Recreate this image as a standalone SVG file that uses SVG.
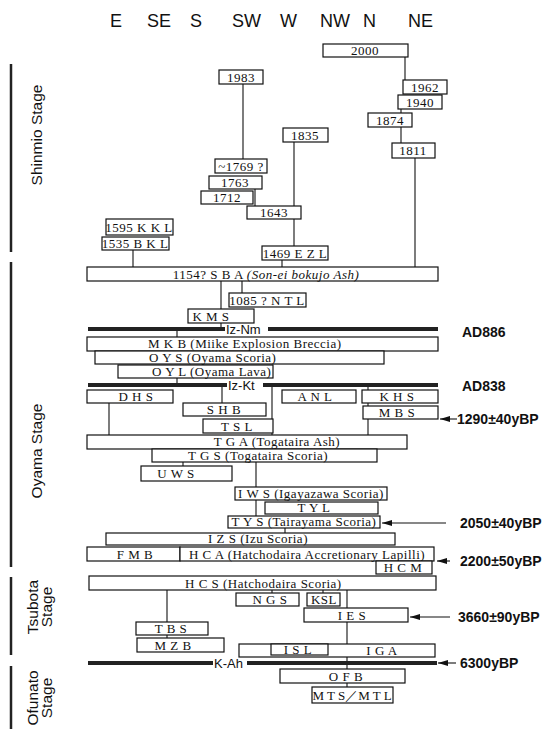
<svg xmlns="http://www.w3.org/2000/svg" width="542" height="729" viewBox="0 0 542 729">
<style>
.b{fill:#fff;stroke:#111;stroke-width:1.2}
.t{font-family:"Liberation Serif",serif;font-size:13px;letter-spacing:0.5px;fill:#111;text-anchor:middle}
.tl{font-family:"Liberation Serif",serif;font-size:13px;letter-spacing:0.5px;fill:#111}
.h{font-family:"Liberation Sans",Arial,sans-serif;font-size:18px;fill:#111}
.a{font-family:"Liberation Sans",Arial,sans-serif;font-size:14px;font-weight:bold;fill:#111}
.s{font-family:"Liberation Sans",Arial,sans-serif;font-size:15.5px;fill:#111;text-anchor:middle}
.c{stroke:#111;stroke-width:1.1;fill:none}
.k{stroke:#222;stroke-width:4;fill:none}
.bar{stroke:#222;stroke-width:2.5}
.k2{font-family:"Liberation Sans",Arial,sans-serif;font-size:13px;fill:#111}
</style>
<defs>
<marker id="ah" markerWidth="10" markerHeight="6" refX="10" refY="3" orient="auto" markerUnits="userSpaceOnUse">
<path d="M0,0 L10,3 L0,6 Z" fill="#111"/>
</marker>
</defs>
<rect width="542" height="729" fill="#fff"/>

<g id="header">
<text class="h" x="110" y="27">E</text>
<text class="h" x="147" y="27">SE</text>
<text class="h" x="190" y="27">S</text>
<text class="h" x="232" y="27">SW</text>
<text class="h" x="280" y="27">W</text>
<text class="h" x="320" y="27">NW</text>
<text class="h" x="363" y="27">N</text>
<text class="h" x="408" y="27">NE</text>
</g>

<g id="stages">
<line class="bar" x1="11" y1="64" x2="11" y2="252"/>
<line class="bar" x1="11" y1="262" x2="11" y2="567"/>
<line class="bar" x1="11" y1="577" x2="11" y2="655"/>
<line class="bar" x1="11" y1="666" x2="11" y2="729"/>
<text class="s" transform="translate(42,135) rotate(-90)">Shinmio Stage</text>
<text class="s" transform="translate(42,451) rotate(-90)">Oyama Stage</text>
<text class="s" transform="translate(38,607) rotate(-90)">Tsubota</text>
<text class="s" transform="translate(52,607) rotate(-90)">Stage</text>
<text class="s" transform="translate(38,698) rotate(-90)">Ofunato</text>
<text class="s" transform="translate(52,698) rotate(-90)">Stage</text>
</g>

<g id="connectors">
<line class="c" x1="405" y1="57" x2="405" y2="80"/>
<line class="c" x1="401" y1="109" x2="401" y2="113"/>
<line class="c" x1="401" y1="127" x2="401" y2="143"/>
<line class="c" x1="415" y1="158" x2="415" y2="267"/>
<line class="c" x1="243" y1="84" x2="243" y2="159"/>
<line class="c" x1="255" y1="189" x2="255" y2="206"/>
<line class="c" x1="294" y1="142" x2="294" y2="206"/>
<line class="c" x1="294" y1="219" x2="294" y2="246"/>
<line class="c" x1="282" y1="260" x2="282" y2="267"/>
<line class="c" x1="133" y1="250" x2="133" y2="267"/>
<line class="c" x1="221" y1="281" x2="221" y2="309"/>
<line class="c" x1="242" y1="281" x2="242" y2="293"/>
<line class="c" x1="221" y1="323" x2="221" y2="329"/>
<line class="c" x1="177" y1="329" x2="177" y2="337"/>
<line class="c" x1="177" y1="378" x2="177" y2="385"/>
<line class="c" x1="222" y1="385" x2="222" y2="403"/>
<line class="c" x1="272" y1="385" x2="272" y2="435"/>
<line class="c" x1="368" y1="385" x2="368" y2="390"/>
<line class="c" x1="109" y1="403" x2="109" y2="435"/>
<line class="c" x1="368" y1="403" x2="368" y2="406"/>
<line class="c" x1="368" y1="419" x2="368" y2="435"/>
<line class="c" x1="183" y1="462" x2="183" y2="466"/>
<line class="c" x1="256" y1="462" x2="256" y2="487"/>
<line class="c" x1="256" y1="500" x2="256" y2="516"/>
<line class="c" x1="285" y1="528" x2="285" y2="533"/>
<line class="c" x1="167" y1="590" x2="167" y2="622"/>
<line class="c" x1="167" y1="635" x2="167" y2="638"/>
<line class="c" x1="272" y1="590" x2="272" y2="593"/>
<line class="c" x1="323" y1="590" x2="323" y2="593"/>
<line class="c" x1="347" y1="590" x2="347" y2="608"/>
<line class="c" x1="347" y1="622" x2="347" y2="644"/>
<line class="c" x1="347" y1="657" x2="347" y2="669"/>
<line class="c" x1="347" y1="683" x2="347" y2="687"/>
</g>

<g id="tephra-lines">
<line class="k" x1="88" y1="329" x2="225" y2="329"/>
<line class="k" x1="268" y1="329" x2="438" y2="329"/>
<text class="k2" x="226" y="334">Iz-Nm</text>
<line class="k" x1="88" y1="385" x2="227" y2="385"/>
<line class="k" x1="263" y1="385" x2="438" y2="385"/>
<text class="k2" x="228" y="390">Iz-Kt</text>
<line class="k" x1="88" y1="663" x2="213" y2="663"/>
<line class="k" x1="247" y1="663" x2="437" y2="663"/>
<text class="k2" x="214" y="668">K-Ah</text>
</g>

<g id="ages">
<text class="a" x="462" y="337">AD886</text>
<text class="a" x="462" y="391">AD838</text>
<line class="c" x1="457" y1="419" x2="440" y2="419" marker-end="url(#ah)"/>
<text class="a" x="457" y="424">1290±40yBP</text>
<line class="c" x1="446" y1="523" x2="382" y2="523" marker-end="url(#ah)"/>
<text class="a" x="460" y="528">2050±40yBP</text>
<line class="c" x1="450" y1="561" x2="437" y2="561" marker-end="url(#ah)"/>
<text class="a" x="460" y="566">2200±50yBP</text>
<line class="c" x1="450" y1="617" x2="410" y2="617" marker-end="url(#ah)"/>
<text class="a" x="458" y="622">3660±90yBP</text>
<line class="c" x1="456" y1="663" x2="438" y2="663" marker-end="url(#ah)"/>
<text class="a" x="460" y="668">6300yBP</text>
</g>

<g id="n2000"><rect class="b" x="323" y="44" width="85" height="13"/><text class="t" x="365" y="55">2000</text></g>
<g id="n1983"><rect class="b" x="219" y="70" width="44" height="14"/><text class="t" x="241" y="81.5">1983</text></g>
<g id="n1962"><rect class="b" x="403" y="80" width="44" height="14"/><text class="t" x="425" y="91.5">1962</text></g>
<g id="n1940"><rect class="b" x="398" y="95" width="44" height="14"/><text class="t" x="420" y="106.5">1940</text></g>
<g id="n1874"><rect class="b" x="368" y="113" width="44" height="14"/><text class="t" x="390" y="124.5">1874</text></g>
<g id="n1835"><rect class="b" x="283" y="128" width="45" height="14"/><text class="t" x="305" y="139.5">1835</text></g>
<g id="n1811"><rect class="b" x="392" y="143" width="43" height="15"/><text class="t" x="413" y="155">1811</text></g>
<g id="n1769"><rect class="b" x="215" y="159" width="52" height="14"/><text class="t" x="241" y="170.5">~1769 ?</text></g>
<g id="n1763"><rect class="b" x="209" y="176" width="53" height="13"/><text class="t" x="235" y="187">1763</text></g>
<g id="n1712"><rect class="b" x="201" y="191" width="52" height="13"/><text class="t" x="227" y="202">1712</text></g>
<g id="n1643"><rect class="b" x="247" y="206" width="54" height="13"/><text class="t" x="274" y="217">1643</text></g>
<g id="kkl"><rect class="b" x="106" y="219" width="67" height="16"/><text class="t" x="139" y="231.5">1595 K K L</text></g>
<g id="bkl"><rect class="b" x="102" y="237" width="67" height="13"/><text class="t" x="135" y="248">1535 B K L</text></g>
<g id="ezl"><rect class="b" x="262" y="246" width="66" height="14"/><text class="t" x="295" y="257.5">1469 E Z L</text></g>
<g id="sba"><rect class="b" x="87" y="267" width="351" height="14"/><text class="t" x="266" y="278.5">1154? S B A <tspan font-style="italic">(Son-ei bokujo Ash)</tspan></text></g>
<g id="ntl"><rect class="b" x="229" y="293" width="77" height="14"/><text class="t" x="267" y="304.5">1085 ? N T L</text></g>
<g id="kms"><rect class="b" x="188" y="309" width="66" height="14"/><text class="t" x="211" y="320.5">K M S</text></g>
<g id="mkb"><rect class="b" x="87" y="337" width="351" height="14"/><text class="tl" x="148" y="348">M K B  (Miike Explosion Breccia)</text></g>
<g id="oys"><rect class="b" x="95" y="351" width="289" height="13"/><text class="tl" x="149" y="361.5">O Y S  (Oyama Scoria)</text></g>
<g id="oyl"><rect class="b" x="118" y="365" width="155" height="13"/><text class="tl" x="152" y="375.5">O Y L  (Oyama Lava)</text></g>
<g id="dhs"><rect class="b" x="87" y="390" width="86" height="13"/><text class="t" x="136" y="401">D H S</text></g>
<g id="anl"><rect class="b" x="282" y="390" width="74" height="13"/><text class="t" x="315" y="401">A N L</text></g>
<g id="khs"><rect class="b" x="362" y="390" width="76" height="13"/><text class="t" x="397" y="401">K H S</text></g>
<g id="shb"><rect class="b" x="183" y="403" width="83" height="13"/><text class="t" x="224" y="414">S H B</text></g>
<g id="mbs"><rect class="b" x="363" y="406" width="75" height="13"/><text class="t" x="397" y="417">M B S</text></g>
<g id="tsl"><rect class="b" x="203" y="419" width="70" height="14"/><text class="t" x="237" y="430.5">T S L</text></g>
<g id="tga"><rect class="b" x="87" y="435" width="320" height="14"/><text class="t" x="277" y="446">T G A  (Togataira Ash)</text></g>
<g id="tgs"><rect class="b" x="152" y="449" width="225" height="13"/><text class="tl" x="188" y="459.5">T G S  (Togataira Scoria)</text></g>
<g id="uws"><rect class="b" x="141" y="466" width="91" height="15"/><text class="t" x="176" y="478">U W S</text></g>
<g id="iws"><rect class="b" x="235" y="487" width="152" height="13"/><text class="t" x="311" y="497.5">I W S  (Igayazawa Scoria)</text></g>
<g id="tyl"><rect class="b" x="265" y="502" width="113" height="12"/><text class="t" x="314" y="512">T Y L</text></g>
<g id="tys"><rect class="b" x="228" y="516" width="152" height="12"/><text class="t" x="304" y="526">T Y S  (Tairayama Scoria)</text></g>
<g id="izs"><rect class="b" x="106" y="533" width="289" height="12"/><text class="tl" x="208" y="543">I Z S (Izu Scoria)</text></g>
<g id="fmb"><rect class="b" x="87" y="547" width="93" height="14"/><text class="t" x="135" y="558.5">F M B</text></g>
<g id="hca"><rect class="b" x="180" y="547" width="254" height="14"/><text class="t" x="307" y="558.5">H C A  (Hatchodaira Accretionary Lapilli)</text></g>
<g id="hcm"><rect class="b" x="376" y="561" width="56" height="13"/><text class="t" x="403" y="572">H C M</text></g>
<g id="hcs"><rect class="b" x="89" y="576" width="347" height="14"/><text class="tl" x="185" y="587.5">H C S  (Hatchodaira Scoria)</text></g>
<g id="ngs"><rect class="b" x="236" y="593" width="63" height="13"/><text class="t" x="270" y="604">N G S</text></g>
<g id="ksl"><rect class="b" x="307" y="593" width="33" height="13"/><text class="t" x="324" y="604">KSL</text></g>
<g id="ies"><rect class="b" x="304" y="608" width="104" height="14"/><text class="t" x="352" y="619.5">I E S</text></g>
<g id="tbs"><rect class="b" x="136" y="622" width="72" height="13"/><text class="t" x="171" y="633">T B S</text></g>
<g id="mzb"><rect class="b" x="137" y="638" width="87" height="14"/><text class="t" x="173" y="649.5">M Z B</text></g>
<g id="iga"><rect class="b" x="239" y="644" width="196" height="13"/><text class="t" x="382" y="655">I G A</text></g>
<g id="isl"><rect class="b" x="271" y="644" width="57" height="11"/><text class="t" x="298" y="654">I S L</text></g>
<g id="ofb"><rect class="b" x="280" y="669" width="125" height="14"/><text class="t" x="346" y="680.5">O F B</text></g>
<g id="mts"><rect class="b" x="312" y="687" width="81" height="16"/><text class="t" x="352" y="699.5" style="letter-spacing:0">M T S／M T L</text></g>
</svg>
